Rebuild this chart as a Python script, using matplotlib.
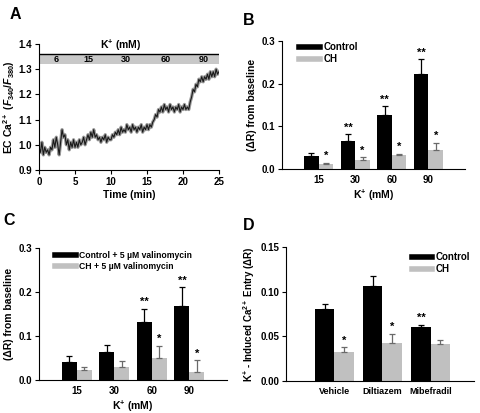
import numpy as np
import matplotlib
matplotlib.use("Agg")
import matplotlib.pyplot as plt
from matplotlib.lines import Line2D

plt.rcParams['font.family'] = ['Liberation Sans', 'DejaVu Sans']
plt.rcParams['font.weight'] = 'bold'
plt.rcParams['axes.labelweight'] = 'bold'
plt.rcParams['mathtext.fontset'] = 'custom'
plt.rcParams['mathtext.rm'] = 'Liberation Sans:bold'
plt.rcParams['mathtext.bf'] = 'Liberation Sans:bold'
plt.rcParams['mathtext.it'] = 'Liberation Sans:bold:italic'

# --- panel A : trace EC Ca2+ (un point toutes les 0.2 min)
trace_A = [
    0.99, 0.97, 1.01, 0.96, 0.99, 0.97, 0.98, 0.96, 0.99, 0.98,
    1.02, 0.99, 1.03, 1.00, 0.96, 1.01, 1.06, 1.03, 1.04, 1.00,
    1.02, 0.98, 1.01, 0.99, 1.02, 0.99, 1.01, 0.99, 1.02, 1.00,
    1.01, 1.03, 1.00, 1.02, 1.04, 1.02, 1.05, 1.03, 1.06, 1.03,
    1.04, 1.02, 1.03, 1.01, 1.03, 1.02, 1.04, 1.01, 1.03, 1.02,
    1.02, 1.04, 1.03, 1.05, 1.04, 1.06, 1.04, 1.07, 1.05, 1.06,
    1.05, 1.08, 1.06, 1.07, 1.05, 1.08, 1.06, 1.07, 1.05, 1.07,
    1.06, 1.08, 1.05, 1.07, 1.06, 1.08, 1.06, 1.08, 1.07, 1.09,
    1.10, 1.12, 1.11, 1.14, 1.13, 1.15, 1.13, 1.16, 1.14, 1.15,
    1.13, 1.16, 1.14, 1.15, 1.13, 1.15, 1.14, 1.16, 1.13, 1.15,
    1.14, 1.16, 1.14, 1.15, 1.14, 1.17, 1.19, 1.22, 1.21, 1.24,
    1.23, 1.26, 1.25, 1.27, 1.25, 1.27, 1.26, 1.28, 1.26, 1.29,
    1.27, 1.29, 1.27, 1.30, 1.28, 1.29,
]
temps_A = np.linspace(0, 25, len(trace_A))
k_labels_A = ["6", "15", "30", "60", "90"]
k_temps_A = [2.4, 6.9, 12.0, 17.6, 22.9]

# --- panel B
k_cats = ["15", "30", "60", "90"]
B_ctrl = [0.031, 0.066, 0.127, 0.222]
B_ctrl_err = [0.007, 0.016, 0.020, 0.036]
B_ch = [0.012, 0.021, 0.032, 0.044]
B_ch_err = [0.003, 0.006, 0.004, 0.018]
B_ctrl_stars = ["", "**", "**", "**"]
B_ch_stars = ["*", "*", "*", "*"]

# --- panel C
C_ctrl = [0.040, 0.064, 0.131, 0.168]
C_ctrl_err = [0.014, 0.016, 0.031, 0.043]
C_ch = [0.023, 0.029, 0.051, 0.019]
C_ch_err = [0.006, 0.015, 0.027, 0.026]
C_ctrl_stars = ["", "", "**", "**"]
C_ch_stars = ["", "", "*", "*"]

# --- panel D
D_cats = ["Vehicle", "Diltiazem", "Mibefradil"]
D_ctrl = [0.081, 0.106, 0.060]
D_ctrl_err = [0.005, 0.012, 0.003]
D_ch = [0.033, 0.042, 0.041]
D_ch_err = [0.005, 0.011, 0.005]
D_ctrl_stars = ["", "", "**"]
D_ch_stars = ["*", "*", ""]

NOIR = "black"
GRIS = "#c0c0c0"
GRIS_ERR = "#6a6a6a"
FS_TICK = 7
FS_LAB = 7.5

fig = plt.figure(figsize=(4.81, 4.13), dpi=100)


def style_axes(ax):
    for s in ["top", "right"]:
        ax.spines[s].set_visible(False)
    for s in ["left", "bottom"]:
        ax.spines[s].set_linewidth(0.8)
    ax.tick_params(labelsize=FS_TICK, width=0.8, length=3, pad=2)
    for lab in ax.get_xticklabels() + ax.get_yticklabels():
        lab.set_fontweight("bold")


def barres(ax, ctrl, ctrl_err, ch, ch_err, ctrl_stars, ch_stars, cats, ymax, w=0.4):
    x = np.arange(1, len(cats) + 1)
    ax.bar(x - w / 2, ctrl, w, color=NOIR, yerr=[np.zeros(len(ctrl)), ctrl_err],
           error_kw=dict(ecolor=NOIR, elinewidth=0.9, capsize=2, capthick=0.9))
    ax.bar(x + w / 2, ch, w, color=GRIS, yerr=[np.zeros(len(ch)), ch_err],
           error_kw=dict(ecolor=GRIS_ERR, elinewidth=0.9, capsize=2, capthick=0.9))
    off = ymax * 0.012
    for i in range(len(cats)):
        if ctrl_stars[i]:
            ax.text(x[i] - w / 2, ctrl[i] + ctrl_err[i] + off, ctrl_stars[i],
                    ha="center", va="bottom", fontsize=8, fontweight="bold")
        if ch_stars[i]:
            ax.text(x[i] + w / 2, ch[i] + ch_err[i] + off, ch_stars[i],
                    ha="center", va="bottom", fontsize=8, fontweight="bold")
    ax.set_xticks(x)
    ax.set_xticklabels(cats)
    return x


def ticks_barres(ax):
    ax.tick_params(axis="x", length=0, pad=4)


# ================= A =================
axA = fig.add_axes([0.0811, 0.5884, 0.3742, 0.3051])
axA.plot(temps_A, trace_A, color="#9a9a9a", lw=2.4, solid_joinstyle="round")
axA.plot(temps_A, trace_A, color="#1a1a1a", lw=0.8)
axA.fill_between([0, 25], 1.32, 1.36, color="#c8c8c8", lw=0)
axA.plot([0, 25], [1.36, 1.36], color="black", lw=1.0)
for t, lab in zip(k_temps_A, k_labels_A):
    axA.text(t, 1.34, lab, ha="center", va="center", fontsize=6.5, fontweight="bold")
axA.text(11.3, 1.365, "K$^{+}$ (mM)", ha="center", va="bottom", fontsize=FS_LAB, fontweight="bold")
axA.set_xlim(0, 25)
axA.set_ylim(0.9, 1.4)
axA.set_xticks([0, 5, 10, 15, 20, 25])
axA.set_yticks([0.9, 1.0, 1.1, 1.2, 1.3, 1.4])
axA.set_yticklabels(["0.9", "1.0", "1.1", "1.2", "1.3", "1.4"])
axA.set_xlabel("Time (min)", fontsize=FS_LAB, labelpad=2)
axA.set_ylabel("EC Ca$^{2+}$ ($F_{340}$/$F_{380}$)", fontsize=FS_LAB, labelpad=1)
style_axes(axA)

# ================= B =================
axB = fig.add_axes([0.5863, 0.5908, 0.3805, 0.3099])
barres(axB, B_ctrl, B_ctrl_err, B_ch, B_ch_err, B_ctrl_stars, B_ch_stars, k_cats, 0.3)
axB.set_xlim(0, 5)
axB.set_ylim(0, 0.3)
axB.set_yticks([0.0, 0.1, 0.2, 0.3])
axB.set_yticklabels(["0.0", "0.1", "0.2", "0.3"])
axB.set_xlabel("K$^{+}$ (mM)", fontsize=FS_LAB, labelpad=2)
axB.set_ylabel("(ΔR) from baseline", fontsize=FS_LAB, labelpad=3)
style_axes(axB)
ticks_barres(axB)
hB = [Line2D([], [], color=NOIR, lw=4), Line2D([], [], color=GRIS, lw=4)]
axB.legend(hB, ["Control", "CH"], loc="upper left", bbox_to_anchor=(0.095, 0.99),
           frameon=False, handlelength=2.1, handletextpad=0.35,
           labelspacing=0.2, borderpad=0, borderaxespad=0, prop=dict(weight="bold", size=7))

# ================= C =================
axC = fig.add_axes([0.0811, 0.0799, 0.3909, 0.3196])
barres(axC, C_ctrl, C_ctrl_err, C_ch, C_ch_err, C_ctrl_stars, C_ch_stars, k_cats, 0.3)
axC.set_xlim(0, 5)
axC.set_ylim(0, 0.3)
axC.set_yticks([0.0, 0.1, 0.2, 0.3])
axC.set_yticklabels(["0.0", "0.1", "0.2", "0.3"])
axC.set_xlabel("K$^{+}$ (mM)", fontsize=FS_LAB, labelpad=2)
axC.set_ylabel("(ΔR) from baseline", fontsize=FS_LAB, labelpad=3)
style_axes(axC)
ticks_barres(axC)
hC = [Line2D([], [], color=NOIR, lw=4), Line2D([], [], color=GRIS, lw=4)]
axC.legend(hC, ["Control + 5 µM valinomycin", "CH + 5 µM valinomycin"], loc="upper left",
           bbox_to_anchor=(0.085, 0.98), frameon=False, handlelength=2.4,
           handletextpad=0.35, labelspacing=0.25, borderpad=0, borderaxespad=0,
           prop=dict(weight="bold", size=6.2))

# ================= D =================
axD = fig.add_axes([0.5946, 0.0775, 0.391, 0.3245])
barres(axD, D_ctrl, D_ctrl_err, D_ch, D_ch_err, D_ctrl_stars, D_ch_stars, D_cats, 0.15)
axD.set_xlim(0, 3.9)
axD.set_ylim(0, 0.15)
axD.set_yticks([0.0, 0.05, 0.10, 0.15])
axD.set_yticklabels(["0.00", "0.05", "0.10", "0.15"])
axD.set_ylabel("K$^{+}$ - Induced Ca$^{2+}$ Entry (ΔR)", fontsize=7, labelpad=2)
style_axes(axD)
ticks_barres(axD)
for lab in axD.get_xticklabels():
    lab.set_fontsize(6.5)
hD = [Line2D([], [], color=NOIR, lw=4), Line2D([], [], color=GRIS, lw=4)]
axD.legend(hD, ["Control", "CH"], loc="upper left", bbox_to_anchor=(0.67, 0.96),
           frameon=False, handlelength=2.1, handletextpad=0.35, labelspacing=0.2,
           borderpad=0, borderaxespad=0, prop=dict(weight="bold", size=7))

# lettres des panneaux
for lettre, (px, py) in zip("ABCD", [(10, 7), (243, 13), (3, 213), (243, 218)]):
    fig.text(px / 481, 1 - py / 413, lettre, fontsize=11.5, fontweight="bold",
             ha="left", va="top")

fig.savefig("out.png", dpi=100)
